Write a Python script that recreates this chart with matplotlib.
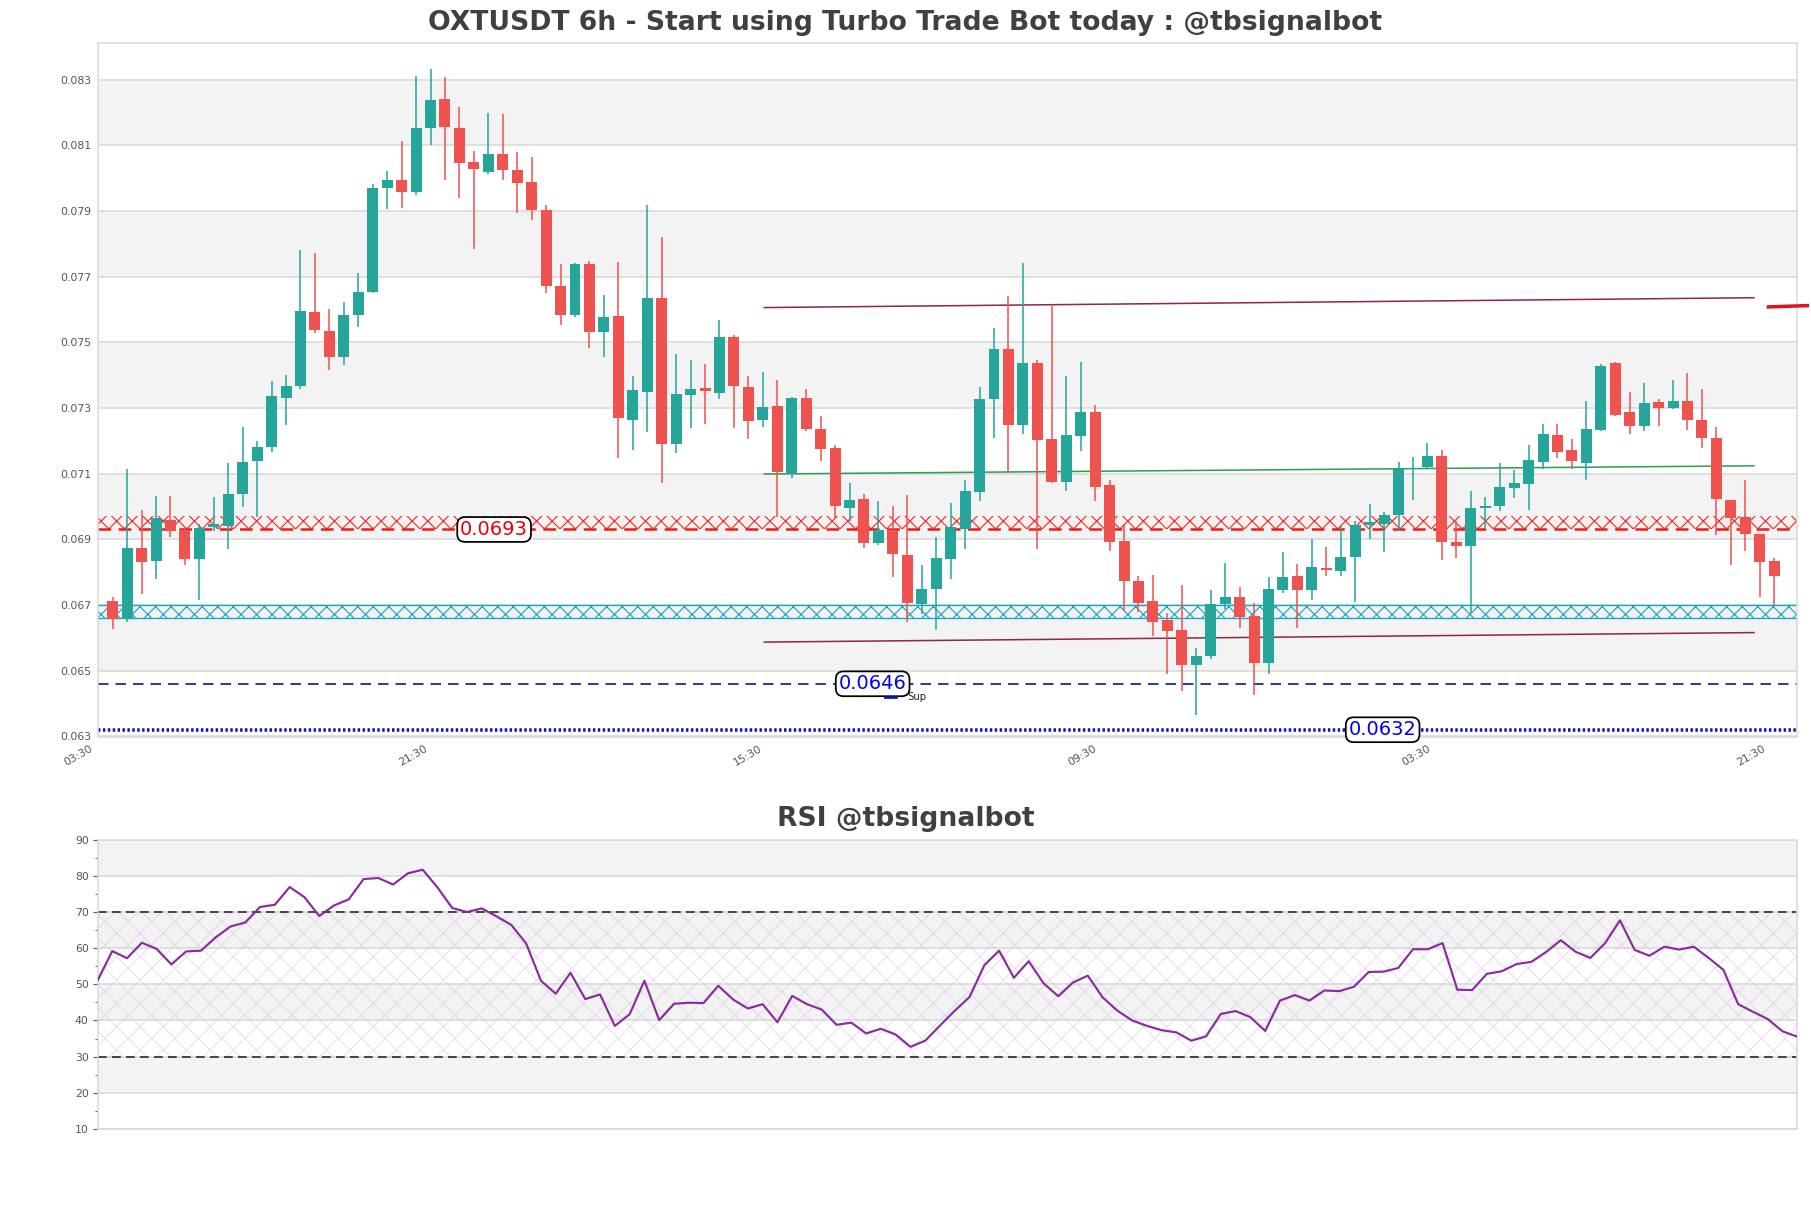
import numpy as np
import matplotlib
matplotlib.use("Agg")
import matplotlib.pyplot as plt
from matplotlib.transforms import ScaledTranslation

# ---------------- data ----------------
opens = [0.06711, 0.06658, 0.06873, 0.06834, 0.06960, 0.06927, 0.06841, 0.06938, 0.06941, 0.07038,
         0.07139, 0.07181, 0.07331, 0.07367, 0.07591, 0.07536, 0.07455, 0.07584, 0.07654, 0.07971,
         0.07994, 0.07959, 0.08153, 0.08240, 0.08152, 0.08048, 0.08019, 0.08073, 0.08024, 0.07988,
         0.07903, 0.07673, 0.07584, 0.07738, 0.07532, 0.07580, 0.07264, 0.07349, 0.07634, 0.07191,
         0.07341, 0.07361, 0.07346, 0.07515, 0.07363, 0.07264, 0.07306, 0.07099, 0.07331, 0.07236,
         0.07178, 0.06995, 0.07023, 0.06889, 0.06929, 0.06851, 0.06704, 0.06748, 0.06841, 0.06932,
         0.07044, 0.07328, 0.07479, 0.07248, 0.07436, 0.07205, 0.07075, 0.07216, 0.07287, 0.07065,
         0.06894, 0.06773, 0.06711, 0.06654, 0.06623, 0.06518, 0.06545, 0.06703, 0.06725, 0.06665,
         0.06524, 0.06745, 0.06787, 0.06745, 0.06813, 0.06805, 0.06845, 0.06945, 0.06948, 0.06974,
         0.07115, 0.07121, 0.07155, 0.06893, 0.06880, 0.06996, 0.07003, 0.07057, 0.07069, 0.07136,
         0.07217, 0.07171, 0.07134, 0.07233, 0.07436, 0.07287, 0.07244, 0.07317, 0.07301, 0.07321,
         0.07265, 0.07210, 0.07019, 0.06969, 0.06915, 0.06833]
highs = [0.06724, 0.07115, 0.06989, 0.07031, 0.07031, 0.06934, 0.06948, 0.07029, 0.07134, 0.07241,
         0.07199, 0.07381, 0.07402, 0.07780, 0.07773, 0.07602, 0.07624, 0.07710, 0.07981, 0.08022,
         0.08113, 0.08311, 0.08332, 0.08307, 0.08216, 0.08083, 0.08199, 0.08196, 0.08080, 0.08066,
         0.07917, 0.07740, 0.07743, 0.07749, 0.07643, 0.07745, 0.07399, 0.07917, 0.07822, 0.07466,
         0.07447, 0.07433, 0.07567, 0.07521, 0.07398, 0.07409, 0.07384, 0.07334, 0.07357, 0.07275,
         0.07187, 0.07071, 0.07038, 0.07017, 0.07003, 0.07034, 0.06822, 0.06906, 0.07010, 0.07080,
         0.07364, 0.07545, 0.07640, 0.07743, 0.07447, 0.07612, 0.07399, 0.07440, 0.07308, 0.07080,
         0.06948, 0.06787, 0.06791, 0.06677, 0.06761, 0.06568, 0.06745, 0.06829, 0.06754, 0.06706,
         0.06784, 0.06861, 0.06826, 0.06901, 0.06878, 0.06945, 0.06955, 0.07008, 0.06982, 0.07136,
         0.07151, 0.07192, 0.07171, 0.06955, 0.07048, 0.07029, 0.07134, 0.07110, 0.07187, 0.07251,
         0.07251, 0.07205, 0.07321, 0.07433, 0.07440, 0.07348, 0.07377, 0.07329, 0.07384, 0.07406,
         0.07357, 0.07241, 0.07020, 0.07080, 0.06915, 0.06843]
lows = [0.06627, 0.06647, 0.06734, 0.06780, 0.06907, 0.06822, 0.06714, 0.06924, 0.06871, 0.06999,
        0.06969, 0.07167, 0.07248, 0.07357, 0.07528, 0.07416, 0.07430, 0.07548, 0.07651, 0.07906,
        0.07908, 0.07950, 0.08101, 0.07994, 0.07941, 0.07785, 0.08013, 0.07994, 0.07894, 0.07873,
        0.07651, 0.07553, 0.07578, 0.07483, 0.07455, 0.07148, 0.07171, 0.07227, 0.07073, 0.07163,
        0.07240, 0.07251, 0.07328, 0.07240, 0.07206, 0.07241, 0.06969, 0.07087, 0.07231, 0.07139,
        0.06962, 0.06957, 0.06875, 0.06882, 0.06784, 0.06647, 0.06672, 0.06623, 0.06780, 0.06871,
        0.07016, 0.07209, 0.07106, 0.07220, 0.06871, 0.07072, 0.07048, 0.07168, 0.07016, 0.06866,
        0.06682, 0.06679, 0.06605, 0.06489, 0.06437, 0.06364, 0.06535, 0.06689, 0.06630, 0.06426,
        0.06490, 0.06738, 0.06630, 0.06714, 0.06789, 0.06787, 0.06710, 0.06901, 0.06862, 0.06929,
        0.07019, 0.07115, 0.06836, 0.06843, 0.06675, 0.06935, 0.06987, 0.07027, 0.06989, 0.07115,
        0.07149, 0.07115, 0.07080, 0.07230, 0.07276, 0.07220, 0.07231, 0.07244, 0.07297, 0.07234,
        0.07178, 0.06913, 0.06822, 0.06865, 0.06725, 0.06699]
closes = [0.06658, 0.06873, 0.06831, 0.06964, 0.06924, 0.06841, 0.06936, 0.06948, 0.07038, 0.07136,
          0.07180, 0.07336, 0.07367, 0.07595, 0.07538, 0.07455, 0.07582, 0.07652, 0.07970, 0.07996,
          0.07959, 0.08154, 0.08237, 0.08156, 0.08047, 0.08029, 0.08073, 0.08026, 0.07985, 0.07904,
          0.07672, 0.07584, 0.07740, 0.07532, 0.07577, 0.07269, 0.07355, 0.07634, 0.07191, 0.07342,
          0.07357, 0.07352, 0.07515, 0.07367, 0.07261, 0.07304, 0.07106, 0.07331, 0.07236, 0.07175,
          0.07001, 0.07019, 0.06889, 0.06927, 0.06854, 0.06707, 0.06749, 0.06843, 0.06939, 0.07047,
          0.07327, 0.07479, 0.07248, 0.07436, 0.07203, 0.07075, 0.07217, 0.07287, 0.07059, 0.06893,
          0.06774, 0.06707, 0.06648, 0.06622, 0.06517, 0.06546, 0.06703, 0.06725, 0.06664, 0.06524,
          0.06748, 0.06784, 0.06745, 0.06815, 0.06806, 0.06845, 0.06945, 0.06952, 0.06975, 0.07115,
          0.07118, 0.07155, 0.06893, 0.06880, 0.06996, 0.07003, 0.07058, 0.07072, 0.07141, 0.07220,
          0.07167, 0.07139, 0.07236, 0.07429, 0.07279, 0.07245, 0.07314, 0.07300, 0.07321, 0.07264,
          0.07209, 0.07022, 0.06966, 0.06917, 0.06831, 0.06789]

rsi = [51.0, 59.2, 57.2, 61.5, 59.8, 55.5, 59.1, 59.3, 63.0, 66.0,
       67.1, 71.4, 72.0, 76.9, 74.1, 68.9, 71.8, 73.5, 79.1, 79.4,
       77.6, 80.7, 81.7, 76.8, 71.1, 70.0, 71.0, 68.8, 66.4, 61.3,
       51.0, 47.4, 53.2, 45.9, 47.2, 38.5, 41.7, 51.0, 40.1, 44.6,
       44.9, 44.8, 49.6, 45.8, 43.3, 44.5, 39.5, 46.8, 44.5, 43.0,
       38.8, 39.4, 36.4, 37.7, 36.1, 32.7, 34.4, 38.6, 42.7, 46.5,
       55.3, 59.3, 51.8, 56.4, 50.3, 46.7, 50.5, 52.4, 46.4, 42.7,
       40.0, 38.5, 37.3, 36.7, 34.4, 35.6, 41.8, 42.6, 40.9, 37.1,
       45.5, 47.0, 45.5, 48.3, 48.1, 49.3, 53.4, 53.5, 54.5, 59.7,
       59.7, 61.4, 48.5, 48.4, 52.9, 53.6, 55.6, 56.2, 58.9, 62.2,
       59.0, 57.3, 61.4, 67.7, 59.5, 57.9, 60.4, 59.6, 60.4, 57.3,
       54.0, 44.5, 42.4, 40.4, 37.0, 35.5]

tick_index = [0, 23, 46, 69, 92, 115]
tick_labels = ["03:30", "21:30", "15:30", "09:30", "03:30", "21:30"]
price_ticks = [0.063, 0.065, 0.067, 0.069, 0.071, 0.073, 0.075, 0.077, 0.079, 0.081, 0.083]
rsi_ticks = [10, 20, 30, 40, 50, 60, 70, 80, 90]

resistance_zone = (0.0693, 0.0697)
resistance_level = 0.0693
support_zone = (0.0666, 0.0670)
support_level_1 = 0.0646
support_level_2 = 0.0632
label_index = {"0.0693": 26.4, "0.0646": 52.6, "0.0632": 87.9}

channel_x = [45.1, 113.6]
channel_upper = [0.07606, 0.07636]
channel_mid = [0.07099, 0.07124]
channel_lower = [0.06587, 0.06616]
target_x = [114.6, 117.3]
target_y = [0.07608, 0.07612]

# ---------------- figure ----------------
DPI = 140
fig = plt.figure(figsize=(1811 / DPI, 1208 / DPI), dpi=DPI)
plt.rcParams["hatch.linewidth"] = 0.6

W, H = 1811, 1208
def rect(l, t, r, b):
    return [l / W, 1 - b / H, (r - l) / W, (b - t) / H]

ax = fig.add_axes(rect(97.5, 43.3, 1797.3, 737.3))
ax2 = fig.add_axes(rect(97.5, 839.7, 1797.3, 1128.9))

grid_c = "#dcdcdc"
band_c = "#f3f3f3"
spine_c = "#d9d9d9"
tick_c = "#555555"
GREEN = "#26a69a"
RED = "#ef5350"

# ---- main price axes ----
ax.set_xlim(-1.05, 116.6)
ax.set_ylim(0.06297, 0.08411)
for k in range(1, len(price_ticks) - 1, 2):
    ax.axhspan(price_ticks[k], price_ticks[k + 1], color=band_c, zorder=0, lw=0)
for t in price_ticks:
    ax.axhline(t, color=grid_c, lw=0.9, zorder=0.5)

o = np.array(opens); h = np.array(highs); l = np.array(lows); c = np.array(closes)
x = np.arange(len(o))
up = c >= o
cols = np.where(up, GREEN, RED)
ax.vlines(x, l, h, colors=cols, lw=0.8, zorder=3)
body_h = np.maximum(np.abs(c - o), 0.000012)
ax.bar(x, body_h, bottom=np.minimum(o, c), width=0.76, color=cols, lw=0, zorder=4)

# zones
ax.axhspan(*resistance_zone, facecolor="#fdf0f0", edgecolor="#e8312f", hatch="xxx", lw=0, zorder=2)
ax.axhline(resistance_level, color="#e8211f", lw=1.3, ls=(0, (5, 3)), zorder=2.5)
ax.axhspan(*support_zone, facecolor="none", edgecolor="#1aa6c8", hatch="xxx", lw=0, zorder=2)
ax.axhline(support_zone[0], color="#1aa6c8", lw=0.7, zorder=2.5)
ax.axhline(support_zone[1], color="#1aa6c8", lw=0.7, zorder=2.5)
ax.axhline(support_level_1, color="#1a1ab4", lw=0.9, ls=(0, (6, 4)), zorder=2.5)
ax.axhline(support_level_2, color="#1010b8", lw=1.8, ls=(0, (0.7, 0.7)), zorder=2.5)

# channel
ax.plot(channel_x, channel_upper, color="#8b2a4a", lw=0.8, zorder=2.6)
ax.plot(channel_x, channel_lower, color="#8b2a4a", lw=0.8, zorder=2.6)
ax.plot(channel_x, channel_mid, color="#2e9e4f", lw=0.8, zorder=2.6)
ax.plot(target_x, target_y, color="#e0141e", lw=1.8, zorder=5, clip_on=False)

box = dict(boxstyle="round,pad=0.15,rounding_size=0.4", fc="white", ec="black", lw=0.9)
for txt, yv, col in (("0.0693", resistance_level, "#e8000b"),
                     ("0.0646", support_level_1, "#0000ee"),
                     ("0.0632", support_level_2, "#0000ee")):
    ax.text(label_index[txt], yv, txt, color=col, fontsize=10, ha="center", va="center",
            bbox=box, zorder=6)

# small legend "Sup"
ax.plot([0.4633, 0.4695], [0.0576, 0.0576], transform=ax.transAxes, color="#1010c0", lw=1.4, zorder=6)
ax.text(0.4765, 0.0576, "Sup", transform=ax.transAxes, fontsize=5.2, color="#222222",
        va="center", ha="left", zorder=6)

ax.set_yticks(price_ticks)
ax.set_yticklabels([f"{t:.3f}" for t in price_ticks])
ax.set_xticks(tick_index)
ax.set_xticklabels(tick_labels, rotation=30, ha="right")
ax.tick_params(axis="both", labelsize=5.6, colors=tick_c, length=0, pad=3)
label_shift_px = [-18, -15.5, -13.5, -11, -9, -7]
for lab, dx in zip(ax.get_xticklabels(), label_shift_px):
    lab.set_transform(lab.get_transform() + ScaledTranslation(dx / DPI, 0, fig.dpi_scale_trans))
for s in ax.spines.values():
    s.set_color(spine_c)
    s.set_linewidth(0.8)

# ---- RSI axes ----
xr = np.arange(len(rsi))
ax2.set_xlim(0, len(rsi) - 1)
ax2.set_ylim(10, 90)
for b0 in (20, 40, 60, 80):
    ax2.axhspan(b0, b0 + 10, color=band_c, zorder=0, lw=0)
for t in rsi_ticks:
    ax2.axhline(t, color=grid_c, lw=0.9, zorder=0.5)
ax2.fill_between([0, len(rsi) - 1], 30, 70, facecolor="none", edgecolor="#d9c2e3",
                 hatch="xx", lw=0, zorder=1, alpha=0.5)
ax2.axhline(70, color="#333333", lw=0.9, ls=(0, (5, 3)), zorder=2)
ax2.axhline(30, color="#333333", lw=0.9, ls=(0, (5, 3)), zorder=2)
ax2.plot(xr, rsi, color="#8b2a9c", lw=1.1, zorder=3)
ax2.set_yticks(rsi_ticks)
ax2.set_yticks([15, 25, 35, 45, 55, 65, 75, 85], minor=True)
ax2.set_xticks([])
ax2.tick_params(axis="y", which="major", labelsize=5.6, colors=tick_c, length=2.5, width=0.6, pad=2)
ax2.tick_params(axis="y", which="minor", colors=tick_c, length=1.5, width=0.5)
for s in ax2.spines.values():
    s.set_color(spine_c)
    s.set_linewidth(0.8)

fig.text(0.5, 1 - 23 / H, "OXTUSDT 6h - Start using Turbo Trade Bot today : @tbsignalbot",
         ha="center", va="center", fontsize=13.7, fontweight="bold", color="#404040")
fig.text(0.5, 1 - 819 / H, "RSI @tbsignalbot",
         ha="center", va="center", fontsize=13.7, fontweight="bold", color="#404040")

fig.savefig("out.png", dpi=DPI)
